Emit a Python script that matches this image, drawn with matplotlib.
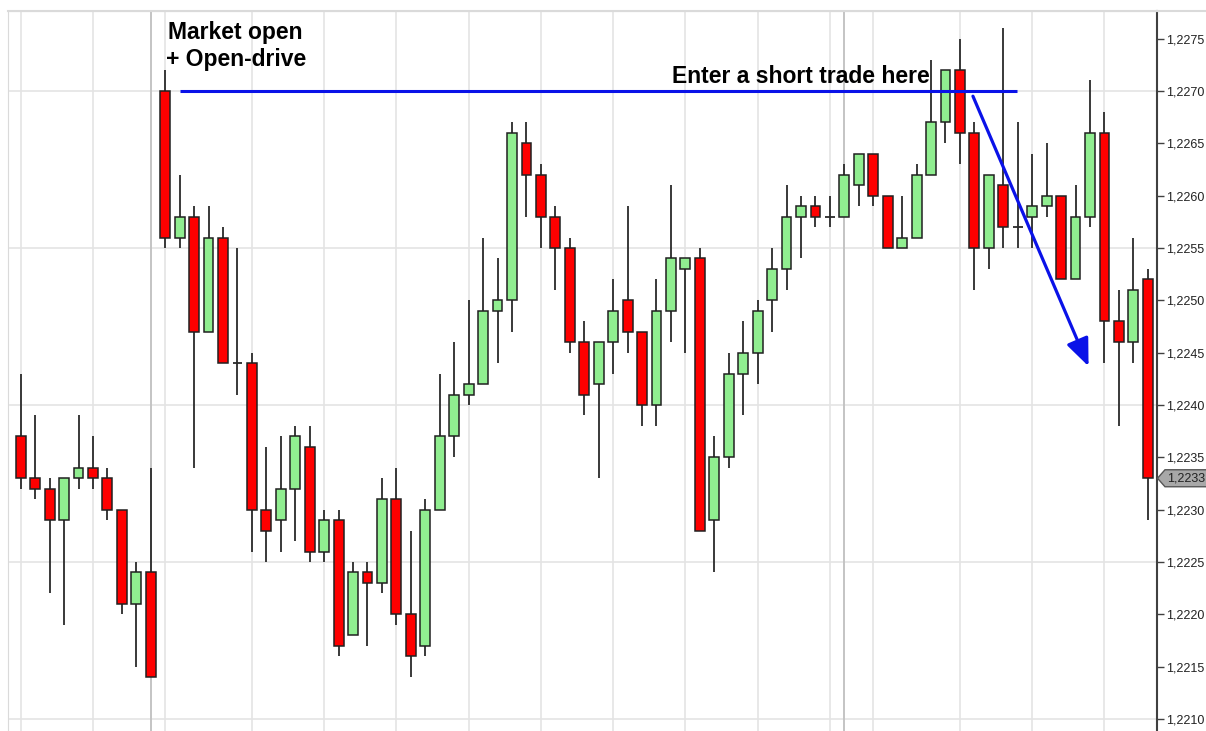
import matplotlib
matplotlib.use('Agg')
import numpy as np
import matplotlib.pyplot as plt
from matplotlib.patches import Rectangle, Polygon
import matplotlib.transforms as mtransforms
from matplotlib.lines import Line2D
from matplotlib.ticker import FuncFormatter

# ---------------- data ----------------
opens = [1.2237, 1.2233, 1.2232, 1.2229, 1.2233, 1.2234, 1.2233, 1.2230, 1.2221, 1.2224,
         1.2270, 1.2256, 1.2258, 1.2247, 1.2256, 1.2244, 1.2244, 1.2230, 1.2229, 1.2232,
         1.2236, 1.2226, 1.2229, 1.2218, 1.2224, 1.2223, 1.2231, 1.2220, 1.2217, 1.2230,
         1.2237, 1.2241, 1.2242, 1.2249, 1.2250, 1.2265, 1.2262, 1.2258, 1.2255, 1.2246,
         1.2242, 1.2246, 1.2250, 1.2247, 1.2240, 1.2249, 1.2253, 1.2254, 1.2229, 1.2235,
         1.2243, 1.2245, 1.2250, 1.2253, 1.2258, 1.2259, 1.2258, 1.2258, 1.2261, 1.2264,
         1.2260, 1.2255, 1.2256, 1.2262, 1.2267, 1.2272, 1.2266, 1.2255, 1.2261, 1.2257,
         1.2258, 1.2259, 1.2260, 1.2252, 1.2258, 1.2266, 1.2248, 1.2246, 1.2252]
highs = [1.2243, 1.2239, 1.2233, 1.2233, 1.2239, 1.2237, 1.2234, 1.2230, 1.2225, 1.2234,
         1.2272, 1.2262, 1.2259, 1.2259, 1.2257, 1.2255, 1.2245, 1.2236, 1.2237, 1.2238,
         1.2238, 1.2230, 1.2230, 1.2225, 1.2225, 1.2233, 1.2234, 1.2228, 1.2231, 1.2243,
         1.2246, 1.2250, 1.2256, 1.2254, 1.2267, 1.2267, 1.2263, 1.2259, 1.2256, 1.2248,
         1.2246, 1.2252, 1.2259, 1.2247, 1.2252, 1.2261, 1.2254, 1.2255, 1.2237, 1.2245,
         1.2248, 1.2250, 1.2255, 1.2261, 1.2260, 1.2260, 1.2260, 1.2263, 1.2264, 1.2264,
         1.2260, 1.2260, 1.2263, 1.2273, 1.2272, 1.2275, 1.2267, 1.2262, 1.2276, 1.2267,
         1.2264, 1.2265, 1.2260, 1.2261, 1.2271, 1.2268, 1.2251, 1.2256, 1.2253]
lows = [1.2232, 1.2231, 1.2222, 1.2219, 1.2232, 1.2232, 1.2229, 1.2220, 1.2215, 1.2214,
        1.2255, 1.2255, 1.2234, 1.2247, 1.2244, 1.2241, 1.2226, 1.2225, 1.2226, 1.2227,
        1.2225, 1.2225, 1.2216, 1.2218, 1.2217, 1.2222, 1.2219, 1.2214, 1.2216, 1.2230,
        1.2235, 1.2240, 1.2242, 1.2244, 1.2247, 1.2258, 1.2255, 1.2251, 1.2245, 1.2239,
        1.2233, 1.2243, 1.2245, 1.2238, 1.2238, 1.2246, 1.2245, 1.2228, 1.2224, 1.2234,
        1.2239, 1.2242, 1.2247, 1.2251, 1.2254, 1.2257, 1.2257, 1.2258, 1.2259, 1.2259,
        1.2255, 1.2255, 1.2256, 1.2262, 1.2265, 1.2263, 1.2251, 1.2253, 1.2255, 1.2255,
        1.2255, 1.2258, 1.2252, 1.2252, 1.2257, 1.2244, 1.2238, 1.2244, 1.2229]
closes = [1.2233, 1.2232, 1.2229, 1.2233, 1.2234, 1.2233, 1.2230, 1.2221, 1.2224, 1.2214,
          1.2256, 1.2258, 1.2247, 1.2256, 1.2244, 1.2244, 1.2230, 1.2228, 1.2232, 1.2237,
          1.2226, 1.2229, 1.2217, 1.2224, 1.2223, 1.2231, 1.2220, 1.2216, 1.2230, 1.2237,
          1.2241, 1.2242, 1.2249, 1.2250, 1.2266, 1.2262, 1.2258, 1.2255, 1.2246, 1.2241,
          1.2246, 1.2249, 1.2247, 1.2240, 1.2249, 1.2254, 1.2254, 1.2228, 1.2235, 1.2243,
          1.2245, 1.2249, 1.2253, 1.2258, 1.2259, 1.2258, 1.2258, 1.2262, 1.2264, 1.2260,
          1.2255, 1.2256, 1.2262, 1.2267, 1.2272, 1.2266, 1.2255, 1.2262, 1.2257, 1.2257,
          1.2259, 1.2260, 1.2252, 1.2258, 1.2266, 1.2248, 1.2246, 1.2251, 1.2233]

price_ticks = [1.2210, 1.2215, 1.2220, 1.2225, 1.2230, 1.2235, 1.2240, 1.2245,
               1.2250, 1.2255, 1.2260, 1.2265, 1.2270, 1.2275]
hgrid_levels = [1.2210, 1.2225, 1.2240, 1.2255, 1.2270]
vgrid_bars = [0, 5, 10, 16, 21, 26, 31, 36, 41, 46, 51, 56, 59, 65, 70, 75]
session_bars = [9, 57]

entry_price = 1.2270
entry_line_bars = [11.0, 68.95]
arrow_start = (65.9, 1.22695)
arrow_end = (73.9, 1.22437)
label_open = ["Market open", "+ Open-drive"]
label_short = "Enter a short trade here"

# ---------------- figure ----------------
W, H = 1206, 731
fig = plt.figure(figsize=(W / 100, H / 100), dpi=100)
ax_left, ax_right, ax_top = 7.7, 1156.6, 11.0
ax = fig.add_axes([ax_left / W, 0.0, (ax_right - ax_left) / W, (H - ax_top) / H])

y_top = 1.2270 + (91 - ax_top) / 104720
y_bot = 1.2210 - (H - 719) / 104720
ax.set_ylim(y_bot, y_top)
ax.set_xlim(-0.9, 78.61)

# grid
for lv in hgrid_levels:
    ax.axhline(lv, color='#E4E4E4', lw=1.2, zorder=0)
for b in vgrid_bars:
    ax.axvline(b, color='#E4E4E4', lw=1.2, zorder=0)
for b in session_bars:
    ax.axvline(b, color='#C4C4C4', lw=1.4, zorder=0)

# candles
bw = 0.68
for i, (o, h, l, c) in enumerate(zip(opens, highs, lows, closes)):
    ax.vlines(i, l, h, color='#2A2A2A', lw=1.3, zorder=2)
    if abs(c - o) < 1e-9:
        ax.hlines(o, i - bw / 2, i + bw / 2, color='#2A2A2A', lw=1.3, zorder=3)
    else:
        fc = '#90EE90' if c > o else '#FF0000'
        ax.add_patch(Rectangle((i - bw / 2, min(o, c)), bw, abs(c - o),
                               facecolor=fc, edgecolor='#202020', lw=1.1, zorder=3))

# annotations
blue = '#0A12E8'
ax.hlines(entry_price, entry_line_bars[0], entry_line_bars[1], color=blue, lw=2.2, zorder=4)
ax.annotate('', xy=arrow_end, xytext=arrow_start,
            arrowprops=dict(arrowstyle='-|>,head_length=1.2,head_width=0.5',
                            color=blue, lw=2.3, shrinkA=0, shrinkB=0,
                            mutation_scale=14), zorder=5)

tfont = dict(family='Liberation Sans', fontweight='bold', fontsize=16.5, color='black')
ax.text(10.2, 1.2270 + 58 / 104720, label_open[0], ha='left', va='center', **tfont, zorder=6)
ax.text(10.05, 1.2270 + 31 / 104720, label_open[1], ha='left', va='center', **tfont, zorder=6)
ax.text(62.93, 1.2270 + 14 / 104720, label_short, ha='right', va='center', **tfont, zorder=6)

# axes styling
ax.yaxis.tick_right()
ax.set_yticks(price_ticks)
ax.yaxis.set_major_formatter(FuncFormatter(lambda v, p: f"{v:.4f}".replace('.', ',')))
ax.tick_params(axis='y', length=5, width=1, color='#404040', labelsize=9,
               labelcolor='#222222', pad=2)
for lab in ax.get_yticklabels():
    lab.set_family('Liberation Sans')
ax.set_xticks([])
ax.spines['right'].set_color('#404040')
ax.spines['right'].set_linewidth(1.5)
ax.spines['left'].set_color('#DADADA')
ax.spines['top'].set_color('#DADADA')
ax.spines['bottom'].set_visible(False)

# top border extending over label area
fig.add_artist(Line2D([ax_left / W, 1.0], [1 - ax_top / H] * 2, color='#DADADA', lw=1.5))

# last-price marker
last = closes[-1]
tr = mtransforms.blended_transform_factory(fig.transFigure, ax.transData)
hh = 8.5 / 104720
pts = [(1157.5 / W, last), (1165 / W, last + hh), (1.02, last + hh),
       (1.02, last - hh), (1165 / W, last - hh)]
fig.add_artist(Polygon(pts, closed=True, transform=tr, facecolor='#A8A8A8',
                       edgecolor='#555555', lw=1.0, clip_on=False))
fig.text(1167 / W, 0, f"{last:.4f}".replace('.', ','), transform=tr, ha='left', va='center',
         fontsize=9, family='Liberation Sans', color='#222222')
fig.texts[-1].set_y(last)

fig.savefig('out.png', dpi=100)
